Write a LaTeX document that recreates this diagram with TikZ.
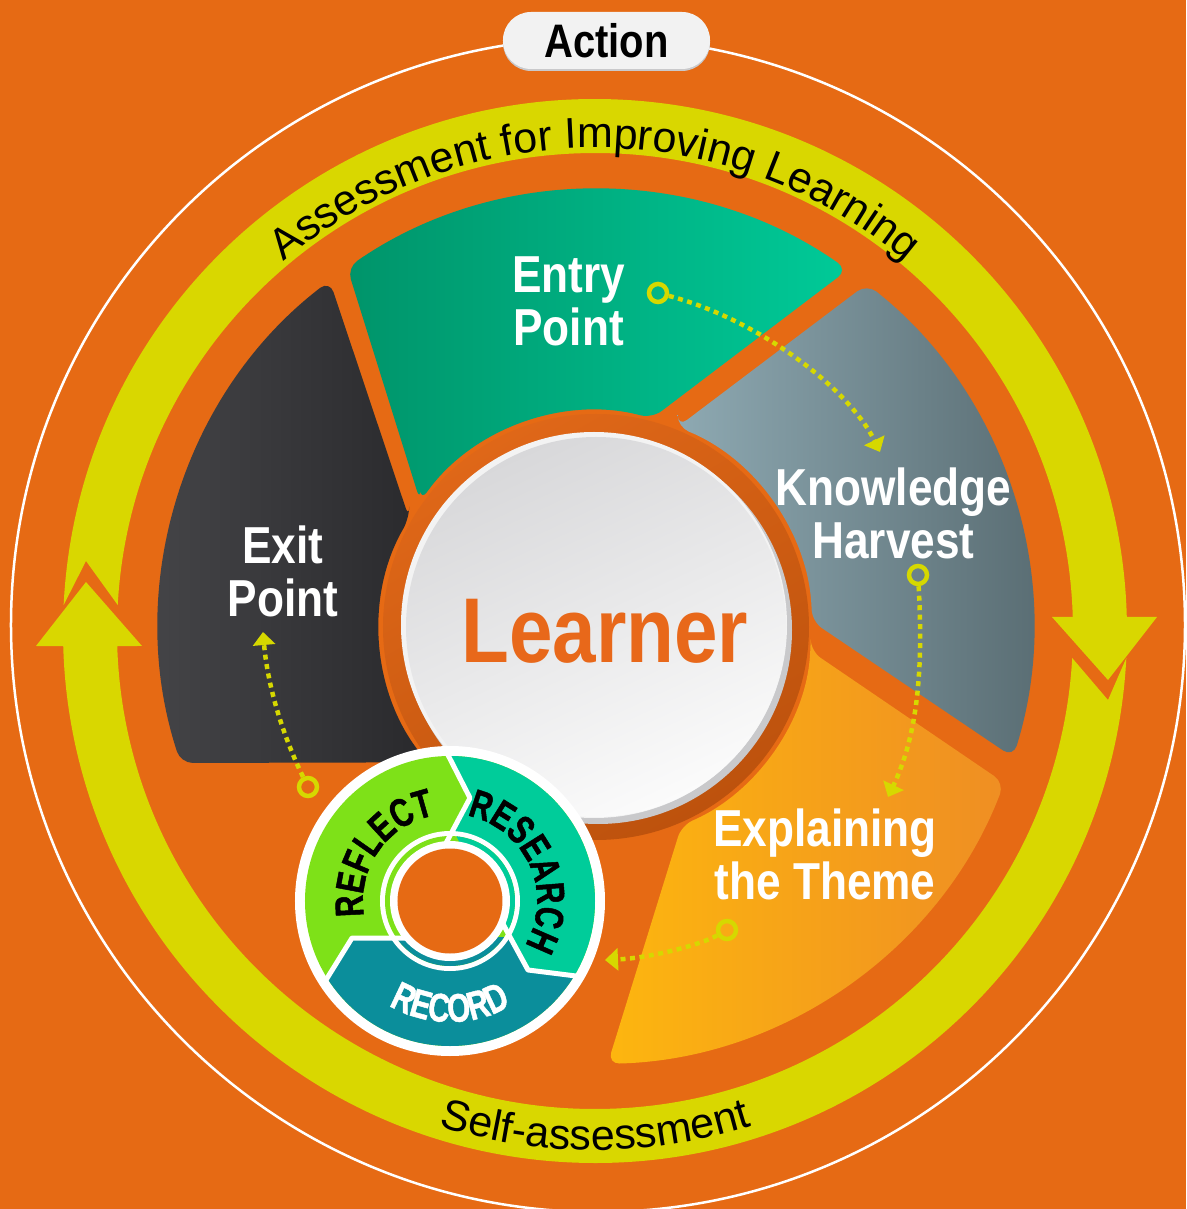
\documentclass[tikz,border=0pt]{standalone}
\usepackage{fontspec}
\setmainfont{Liberation Sans}
\newfontfamily\condfont[FakeStretch=0.85]{Liberation Sans}
\newfontfamily\narrowfont[FakeStretch=0.74, FakeBold=1.2]{Liberation Sans}
\usetikzlibrary{arrows.meta,decorations.text}

\definecolor{bgorange}{HTML}{E66A14}
\definecolor{bandyellow}{HTML}{D9D700}
\definecolor{dotyellow}{HTML}{D6D800}
\definecolor{entrydark}{HTML}{00946A}
\definecolor{entrylight}{HTML}{00CA98}
\definecolor{harvestlight}{HTML}{8EA9B2}
\definecolor{harvestdark}{HTML}{56696F}
\definecolor{themelight}{HTML}{FDB60F}
\definecolor{themedark}{HTML}{EF8E23}
\definecolor{exitlight}{HTML}{47474A}
\definecolor{exitdark}{HTML}{29292C}
\definecolor{ringlight}{HTML}{DF6718}
\definecolor{ringdark}{HTML}{BD520D}
\definecolor{disktop}{HTML}{D8D8DA}
\definecolor{diskbottom}{HTML}{FBFBFB}
\definecolor{rimgray}{HTML}{C9C9CB}
\definecolor{rimwhite}{HTML}{F3F3F3}
\definecolor{reflectgreen}{HTML}{7EE118}
\definecolor{researchteal}{HTML}{00CC9A}
\definecolor{recordteal}{HTML}{0B8E9B}
\definecolor{actionfill}{HTML}{F2F2F2}
\definecolor{learnerorange}{HTML}{E8681A}

\newcommand\petalfont{\condfont\bfseries\fontsize{52}{53}\selectfont}
\newcommand\cyclefont{\narrowfont\bfseries\fontsize{40}{40}\selectfont}
\newcommand\recordfont{\narrowfont\bfseries\fontsize{40}{40}\selectfont}
\newcommand\bandfont{\fontsize{43}{43}\selectfont}

\tikzset{
  petal/.style={rounded corners=12pt},
  petallabel/.style={text=white, font=\petalfont, align=center},
  dotpath/.style={draw=dotyellow, line width=4.5pt, dash pattern=on 5pt off 4.5pt, -{Triangle[length=13pt,width=22pt]}},
  dotstart/.style={circle, draw=dotyellow, line width=4.5pt, minimum size=18pt, inner sep=0pt},
  bandtext/.style={decorate, decoration={text along path, text align=center, text={|\bandfont|#1}}},
  cycletext/.style 2 args={decorate, decoration={text along path, text align=center, text color=#1, text={#2}}},
}

\begin{document}
\begin{tikzpicture}[x=1pt, y=1pt]
\useasboundingbox (-596,-582) rectangle (590,627);
\fill[bgorange] (-596,-582) rectangle (590,627);

% outer ring with its label
\draw[white, line width=2.5pt] (2,2) circle (587);
\fill[rimgray, rounded corners=28pt] (-93,556) rectangle (114,613);
\node[fill=actionfill, rounded corners=28pt, minimum width=207pt, minimum height=57pt, inner sep=0pt,
  font=\condfont\bfseries\fontsize{47}{47}\selectfont] (action) at (10.5,586.5) {Action};

% yellow band, two arrows
\begin{scope}[shift={(-1,-4)}]
\fill[bandyellow] (177.2:532) arc[start angle=177.2, end angle=1.51, radius=532] -- (562,14) -- (513,-49) -- (457,14)
  -- (1.68:478) arc[start angle=1.68, end angle=176.88, radius=478] -- (-509,70) -- cycle;
\fill[bandyellow] (-2.91:532) arc[start angle=-2.91, end angle=-178.38, radius=532] -- (-559,-15) -- (-509,49) -- (-453,-15)
  -- (-178.2:478) arc[start angle=-178.2, end angle=-3.24, radius=478] -- (513,-69) -- cycle;
\path[bandtext={Assessment for Improving Learning}] (150:483) arc[start angle=150, end angle=30, radius=483];
\path[bandtext={Self-assessment}] (-150:519) arc[start angle=-150, end angle=-30, radius=519];
\end{scope}

% the four stages
\shade[petal, left color=entrydark, middle color=entrylight, right color=entrylight]
  (144.45:216) -- (124.7:437) arc[start angle=124.7, end angle=54.83, radius=437] -- (75:216)
  arc[start angle=75, end angle=144.45, radius=216] -- cycle;
\shade[petal, left color=harvestlight, right color=harvestdark]
  (67.8:216) -- (51.7:437) arc[start angle=51.7, end angle=-17.34, radius=437] -- (1.5:216)
  arc[start angle=1.5, end angle=67.8, radius=216] -- cycle;
\shade[petal, left color=themelight, right color=themedark]
  (-6.4:216) -- (-20.9:437) arc[start angle=-20.9, end angle=-88.47, radius=437] -- (-66.65:216)
  arc[start angle=-66.65, end angle=-6.4, radius=216] -- cycle;
\shade[petal, left color=exitlight, right color=exitdark]
  (149.86:216) -- (127.56:437) arc[start angle=127.56, end angle=198.13, radius=437] -- (218.8:216)
  arc[start angle=218.8, end angle=149.86, radius=216] -- cycle;

\node[petallabel] (entry) at (-27.5,326) {Entry\\Point};
\node[petallabel] (harvest) at (297.5,114) {Knowledge\\Harvest};
\node[petallabel] (theme) at (229,-227) {Explaining\\the Theme};
\node[petallabel] (exit) at (-313,56) {Exit\\Point};

% centre
\shade[top color=ringlight, bottom color=ringdark, shading angle=30] (0,0) circle (213);
\fill[rimgray] (2,-3) circle (194);
\fill[rimwhite] (-2,2) circle (193);
\shade[top color=disktop, bottom color=diskbottom, shading angle=25] (0,0) circle (190);
\node[anchor=base, text=learnerorange, font=\condfont\bfseries\fontsize{92}{92}\selectfont] (learner) at (9,-36) {Learner};

% dotted links
\node[dotstart] (entrydot) at (62,334) {};
\coordinate (harvesttip) at (284,175);
\draw[dotpath] (entrydot) .. controls (164,307) and (254,237) .. (harvesttip);
\node[dotstart] (harvestdot) at (322,52) {};
\coordinate (themetip) at (292,-170);
\draw[dotpath] (harvestdot) .. controls (328,-53) and (319,-113) .. (themetip);
\node[dotstart] (themedot) at (131,-303) {};
\coordinate (cycletip) at (9,-333);
\draw[dotpath] (themedot) .. controls (104,-318) and (54,-331) .. (cycletip);
\node[dotstart] (cycledot) at (-288,-160) {};
\coordinate (exittip) at (-333,-5);
\draw[dotpath] (cycledot) .. controls (-311,-113) and (-328,-63) .. (exittip);

% reflect / research / record
\begin{scope}[shift={(-146,-274)}]
\fill[white] (0,0) circle (155);
\fill[reflectgreen] (0,0) circle (145);
\begin{scope}
\clip (0,0) circle (145);
\fill[researchteal] (3,71) -- (20,103) -- (-68,275) -- (300,300) -- (300,-95) -- (125,-74) -- (78,-69) -- (60,-36) -- cycle;
\fill[recordteal] (-98,-37) -- (60,-36) -- (78,-69) -- (125,-74) -- (300,-95) -- (300,-300) -- (-300,-300) -- (-196,-199) -- cycle;
\end{scope}
\fill[white] (0,0) circle (70);
\fill[reflectgreen] (0,0) circle (65);
\begin{scope}
\clip (0,0) circle (65);
\fill[researchteal] (3,71) -- (20,103) -- (-68,275) -- (300,300) -- (300,-95) -- (125,-74) -- (78,-69) -- (60,-36) -- cycle;
\fill[recordteal] (-98,-37) -- (60,-36) -- (78,-69) -- (125,-74) -- (300,-95) -- (300,-300) -- (-300,-300) -- (-196,-199) -- cycle;
\end{scope}
\fill[white] (0,0) circle (60);
\draw[white, line width=5pt, line join=round] (-5,56) -- (3,71) -- (20,103) -- (-3,148);
\draw[white, line width=5pt, line join=round] (52,-21) -- (60,-36) -- (78,-69) -- (126,-75);
\draw[white, line width=5pt, line join=round] (-45,-37) -- (-98,-37) -- (-124,-79);
\fill[bgorange] (0,0) circle (52.5);
\path[cycletext={black}{|\cyclefont|REFLECT}] (205:87) arc[start angle=205, end angle=85, radius=87];
\path[cycletext={black}{|\cyclefont|RESEARCH}] (80:87) arc[start angle=80, end angle=-32, radius=87];
\path[cycletext={white}{|\recordfont|RECORD}] (-150:121) arc[start angle=-150, end angle=-30, radius=121];
\end{scope}
\end{tikzpicture}
\end{document}
